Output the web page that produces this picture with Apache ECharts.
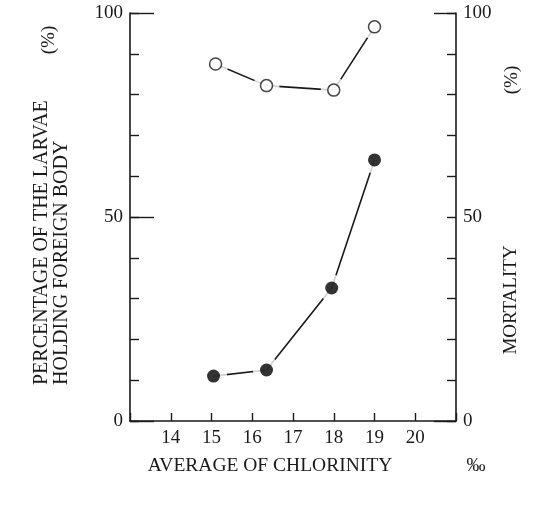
<!DOCTYPE html>
<html><head><meta charset="utf-8">
<script src="https://cdn.jsdelivr.net/npm/echarts@6/dist/echarts.min.js"></script>
<style>html,body{margin:0;padding:0;background:#fff}#c{width:540px;height:510px}</style>
</head><body><div id="c"></div>
<script>
const chlorinityFilled = [15.05, 16.35, 17.95, 19.0];
const holdingForeignBody = [11.0, 12.5, 32.6, 64.0];
const chlorinityOpen = [15.1, 16.35, 18.0, 19.0];
const mortality = [87.5, 82.2, 81.1, 96.6];
const xTickLabels = ['14', '15', '16', '17', '18', '19', '20'];
const yTickLabels = ['0', '50', '100'];

const FONT = 'Liberation Serif';
const INK = '#1a1a1a';
const pairs = (xs, ys) => xs.map((x, i) => [x, ys[i]]);
const filledData = pairs(chlorinityFilled, holdingForeignBody);
const openData = pairs(chlorinityOpen, mortality);

const labelStyle = { fontFamily: FONT, fontSize: 19, color: INK };
const yFmt = v => yTickLabels.includes(String(v)) ? String(v) : '';

const chart = echarts.init(document.getElementById('c'), null, { renderer: 'canvas' });
chart.setOption({
  animation: false,
  backgroundColor: '#fff',
  grid: { left: 130, right: 84, top: 13, bottom: 89, containLabel: false },
  xAxis: {
    type: 'value', min: 13, max: 21, interval: 1,
    axisLine: { show: true, lineStyle: { color: INK, width: 1.6 } },
    axisTick: { show: true, inside: true, length: 8, lineStyle: { color: INK, width: 1.4 } },
    axisLabel: Object.assign({ margin: 8, formatter: v => xTickLabels.includes(String(v)) ? String(v) : '' }, labelStyle),
    splitLine: { show: false }
  },
  yAxis: [
    {
      type: 'value', position: 'left', min: 0, max: 100, interval: 10,
      axisLine: { show: true, lineStyle: { color: INK, width: 1.6 } },
      axisTick: { show: true, inside: true, length: 9, lineStyle: { color: INK, width: 1.4 } },
      axisLabel: Object.assign({ margin: 7, formatter: yFmt }, labelStyle),
      splitLine: { show: false }
    },
    {
      type: 'value', position: 'left', min: 0, max: 100, interval: 50,
      axisLine: { show: false },
      axisTick: { show: true, inside: true, length: 24, lineStyle: { color: INK, width: 1.4 } },
      axisLabel: { show: false }, splitLine: { show: false }
    },
    {
      type: 'value', position: 'right', min: 0, max: 100, interval: 10,
      axisLine: { show: true, lineStyle: { color: INK, width: 1.6 } },
      axisTick: { show: true, inside: true, length: 9, lineStyle: { color: INK, width: 1.4 } },
      axisLabel: Object.assign({ margin: 7, formatter: yFmt }, labelStyle),
      splitLine: { show: false }
    },
    {
      type: 'value', position: 'right', min: 0, max: 100, interval: 100,
      axisLine: { show: false },
      axisTick: { show: true, inside: true, length: 22, lineStyle: { color: INK, width: 1.4 } },
      axisLabel: { show: false }, splitLine: { show: false }
    }
  ],
  series: [
    { type: 'line', yAxisIndex: 0, data: filledData, showSymbol: false, silent: true, z: 2,
      lineStyle: { color: INK, width: 1.6 } },
    { type: 'line', yAxisIndex: 2, data: openData, showSymbol: false, silent: true, z: 2,
      lineStyle: { color: INK, width: 1.6 } },
    { type: 'scatter', yAxisIndex: 0, data: filledData, symbolSize: 27, silent: true, z: 3,
      itemStyle: { color: '#fff' } },
    { type: 'scatter', yAxisIndex: 2, data: openData, symbolSize: 26, silent: true, z: 3,
      itemStyle: { color: '#fff' } },
    { type: 'scatter', yAxisIndex: 0, data: filledData, symbolSize: 13, silent: true, z: 4,
      itemStyle: { color: '#000' } },
    { type: 'scatter', yAxisIndex: 2, data: openData, symbol: 'circle', symbolSize: 12, silent: true, z: 4,
      itemStyle: { color: '#fff', borderColor: INK, borderWidth: 1.5 } }
  ],
  graphic: [
    { type: 'text', x: 52, y: 385, rotation: Math.PI / 2,
      style: { text: 'PERCENTAGE OF THE LARVAE\nHOLDING FOREIGN BODY', fontFamily: FONT, fontSize: 20,
        lineHeight: 20, fill: INK, textAlign: 'left', textVerticalAlign: 'middle' } },
    { type: 'text', x: 49, y: 40, rotation: Math.PI / 2,
      style: { text: '(%)', fontFamily: FONT, fontSize: 19, fill: INK, textAlign: 'center', textVerticalAlign: 'middle' } },
    { type: 'text', x: 511, y: 300, rotation: Math.PI / 2,
      style: { text: 'MORTALITY', fontFamily: FONT, fontSize: 19, fill: INK, textAlign: 'center', textVerticalAlign: 'middle' } },
    { type: 'text', x: 512, y: 80, rotation: Math.PI / 2,
      style: { text: '(%)', fontFamily: FONT, fontSize: 19, fill: INK, textAlign: 'center', textVerticalAlign: 'middle' } },
    { type: 'text', x: 270, y: 466,
      style: { text: 'AVERAGE OF CHLORINITY', fontFamily: FONT, fontSize: 19.5, fill: INK, textAlign: 'center', textVerticalAlign: 'middle' } },
    { type: 'text', x: 476, y: 466,
      style: { text: '‰', fontFamily: FONT, fontSize: 19, fill: INK, textAlign: 'center', textVerticalAlign: 'middle' } }
  ]
});
</script>
</body></html>
